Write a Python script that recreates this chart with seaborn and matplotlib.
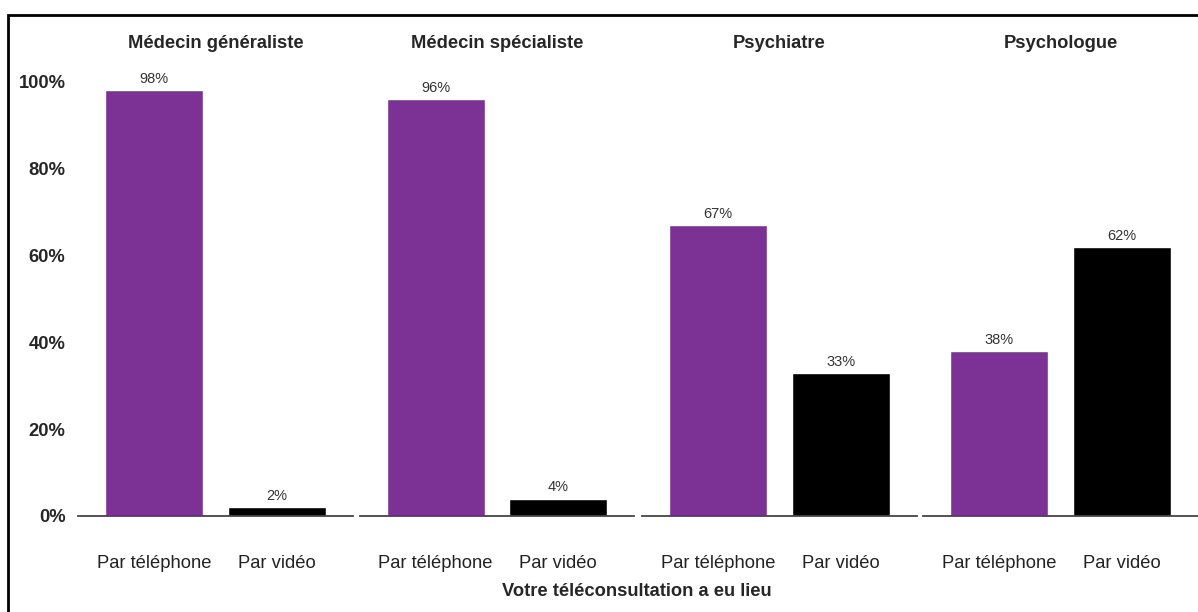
import matplotlib
matplotlib.use("Agg")
import matplotlib.pyplot as plt
import seaborn as sns
import pandas as pd
from matplotlib.patches import Rectangle

sns.set_theme(style="white")
plt.rcParams['font.family'] = ['Liberation Sans', 'DejaVu Sans']

specialties = ["Médecin généraliste", "Médecin spécialiste", "Psychiatre", "Psychologue"]
modes = ["Par téléphone", "Par vidéo"]
telephone = [98, 96, 67, 38]
video = [2, 4, 33, 62]
colors = ["#7B3294", "#000000"]

W, H = 1198, 612
fig = plt.figure(figsize=(W / 100, H / 100), dpi=100)

ax_px = [(78, 353), (360, 634), (642, 917), (923, 1198)]
y0_px, top_px = 516, 60

FS = 13.2

for i, (spec, (l, r)) in enumerate(zip(specialties, ax_px)):
    df = pd.DataFrame({"mode": modes, "pct": [telephone[i], video[i]]})
    ax = fig.add_axes([l / W, 1 - y0_px / H, (r - l) / W, (y0_px - top_px) / H])
    sns.barplot(data=df, x="mode", y="pct", hue="mode", palette=colors,
                width=0.8, ax=ax, legend=False, saturation=1)
    ax.set_xlim(-0.618, 1.618)
    ax.set_ylim(0, 105)
    for c in ax.containers:
        ax.bar_label(c, labels=[f"{v:.0f}%" for v in c.datavalues], padding=3,
                     fontsize=10.5, color="#333333")
    ax.set_title(spec, fontsize=FS, fontweight="bold", pad=9)
    ax.set_xlabel("")
    ax.set_ylabel("")
    for s in ["top", "right", "left"]:
        ax.spines[s].set_visible(False)
    ax.spines["bottom"].set_color("#444444")
    ax.spines["bottom"].set_linewidth(1.3)
    ax.tick_params(axis="x", length=0, pad=28, labelsize=FS, labelcolor="#222222")
    ax.set_yticks([0, 20, 40, 60, 80, 100])
    if i == 0:
        ax.set_yticklabels([f"{v}%" for v in [0, 20, 40, 60, 80, 100]],
                           fontweight="bold", fontsize=FS)
        ax.tick_params(axis="y", length=0, pad=9)
    else:
        ax.tick_params(axis="y", length=0, labelleft=False)
    ax.grid(False)

fig.text(637 / W, 1 - 591 / H, "Votre téléconsultation a eu lieu",
         ha="center", va="center", fontsize=FS, fontweight="bold")

fig.patches.append(Rectangle((8 / W, -0.05), 1.2, 1 - 15 / H + 0.05,
                             transform=fig.transFigure, fill=False,
                             edgecolor="black", linewidth=2, zorder=10))

fig.savefig("out.png", dpi=100)
